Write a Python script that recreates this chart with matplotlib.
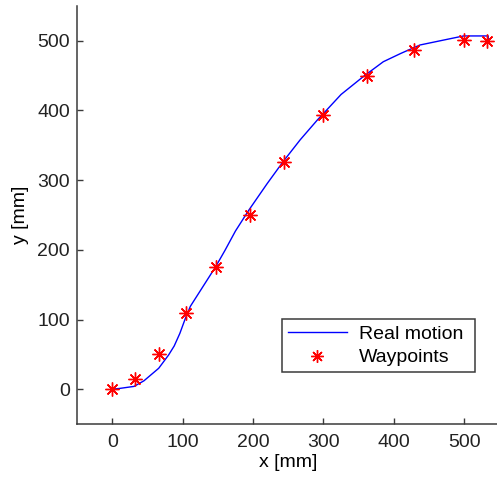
############################# Waypoint tracking plot ##########################
import matplotlib.pyplot as plt
from matplotlib.lines import Line2D

################################## Data #######################################
# measured path of the end effector
motion_x = [0, 10, 31, 45, 66, 80, 88, 96, 104, 111, 123, 135, 147, 160, 175,
            194, 220, 243, 267, 291, 303, 325, 357, 385, 410, 437, 475, 499,
            534, 534]
motion_y = [0, 1, 4, 12, 30, 49, 62, 80, 102, 119, 138, 157, 176, 199, 227,
            257, 295, 327, 358, 386, 399, 423, 449, 470, 482, 494, 502, 507,
            507, 500]
# commanded waypoints
way_x = [0, 32, 66, 105, 148, 196, 244, 300, 362, 429, 500, 532]
way_y = [0, 15, 51, 109, 176, 250, 326, 394, 450, 487, 501, 500]
ticks = [0, 100, 200, 300, 400, 500]

################################## Plot #######################################
plt.rcParams['font.family'] = ['Liberation Sans', 'DejaVu Sans']
plt.rcParams['font.size'] = 14

fig = plt.figure(figsize=(4.97, 4.79), dpi=100)
ax = fig.add_axes([0.155, 0.1148, 0.850, 0.8727])

star = (8, 2, 0)
ax.plot(motion_x, motion_y, color='#0000ff', lw=1.0, label='Real motion')
ax.plot(way_x, way_y, ls='none', marker=star, ms=10, mew=1.0,
        color='#ff0000', label='Waypoints')

ax.set_xlim(-50, 550)
ax.set_ylim(-50, 550)
ax.set_xticks(ticks)
ax.set_yticks(ticks)
ax.set_xlabel('x [mm]', labelpad=2)
ax.set_ylabel('y [mm]', labelpad=6)

for side in ['top', 'right']:
    ax.spines[side].set_visible(False)
for side in ['left', 'bottom']:
    ax.spines[side].set_color('#3a3a3a')
    ax.spines[side].set_linewidth(1.1)
ax.tick_params(direction='in', length=4, width=1, color='#3a3a3a',
               labelcolor='#222222')
ax.tick_params(axis='y', pad=5)
ax.tick_params(axis='x', pad=7)

handles = [Line2D([], [], color='#0000ff', lw=1.0),
           Line2D([], [], ls='none', marker=star, ms=9, mew=1.0, color='#ff0000')]
leg = ax.legend(handles, ['Real motion', 'Waypoints'], loc='lower left',
                bbox_to_anchor=(0.486, 0.124, 0.456, 0.151), mode='expand',
                fancybox=False, framealpha=1, edgecolor='#3a3a3a',
                handlelength=3.0, borderpad=0.3, labelspacing=0.3,
                handletextpad=0.45, borderaxespad=0)
leg.get_frame().set_linewidth(1.1)
for t in leg.get_texts():
    t.set_x(4)

fig.savefig('out.png', dpi=100)
